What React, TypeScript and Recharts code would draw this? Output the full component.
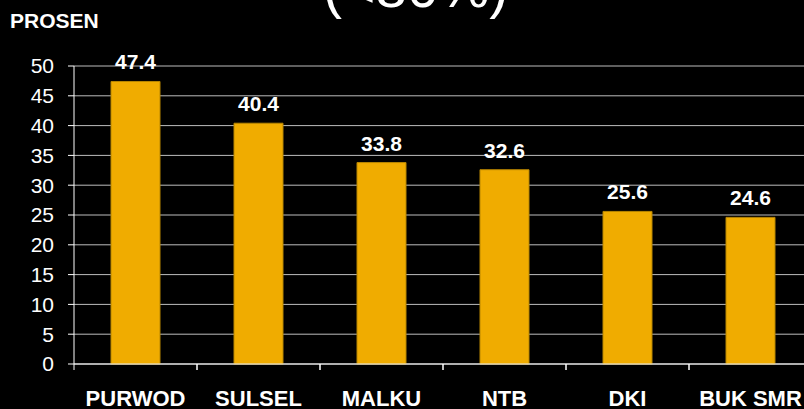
import { BarChart, Bar, XAxis, YAxis, CartesianGrid, LabelList } from "recharts"

const regions = ["PURWOD", "SULSEL", "MALKU", "NTB", "DKI", "BUK SMR"]
const percent = [47.4, 40.4, 33.8, 32.6, 25.6, 24.6]
const yTicks = [0, 5, 10, 15, 20, 25, 30, 35, 40, 45, 50]

const data = regions.map((name, i) => ({ name, value: percent[i] }))

const FONT = '"Liberation Sans", Arial, sans-serif'
const TICK_SIZE = 6
const TICK_MARGIN = 20

function RegionTick(props: any) {
  const { x, y, payload } = props
  const half = payload?.offset ?? 0
  const axisY = y - TICK_SIZE - TICK_MARGIN
  return (
    <g>
      <line x1={x - half} x2={x - half} y1={axisY} y2={axisY + TICK_SIZE} stroke="#ffffff" strokeWidth={1} />
      <line x1={x + half} x2={x + half} y1={axisY} y2={axisY + TICK_SIZE} stroke="#ffffff" strokeWidth={1} />
      <text
        x={x}
        y={y}
        dy="0.71em"
        textAnchor="middle"
        fill="#ffffff"
        fontFamily={FONT}
        fontSize={22}
        fontWeight="bold"
      >
        {payload.value}
      </text>
    </g>
  )
}

export default function App() {
  return (
    <div
      style={{
        position: "absolute",
        left: 0,
        top: 0,
        width: 804,
        height: 409,
        overflow: "hidden",
        background: "#000000",
      }}
    >
      <BarChart
        width={812}
        height={409}
        data={data}
        margin={{ top: 66, right: 0, left: 0, bottom: 0 }}
        barCategoryGap={0}
      >
        <CartesianGrid horizontal vertical={false} stroke="#bdbdbd" strokeWidth={1} />
        <XAxis
          dataKey="name"
          height={45}
          stroke="#ffffff"
          tickLine={false}
          tickSize={TICK_SIZE}
          tickMargin={TICK_MARGIN}
          interval={0}
          tick={<RegionTick />}
        />
        <YAxis
          width={74}
          domain={[0, 50]}
          ticks={yTicks}
          interval={0}
          stroke="#ffffff"
          tickSize={TICK_SIZE}
          tickMargin={14}
          tick={{ fill: "#ffffff", fontSize: 21, fontFamily: FONT }}
        />
        <Bar
          dataKey="value"
          fill="#f0ac00"
          stroke="#b88600"
          strokeWidth={1}
          barSize={49}
          isAnimationActive={false}
        >
          <LabelList
            dataKey="value"
            position="top"
            offset={12}
            fill="#ffffff"
            fontFamily={FONT}
            fontSize={21}
            fontWeight="bold"
            formatter={(v: any) => Number(v).toFixed(1)}
          />
        </Bar>
      </BarChart>
      <svg
        width={804}
        height={409}
        style={{ position: "absolute", left: 0, top: 0, pointerEvents: "none" }}
      >
        <text x={323} y={7} fill="#ffffff" fontFamily={FONT} fontSize={57}>
          (&lt;80%)
        </text>
        <text x={10} y={28} fill="#ffffff" fontFamily={FONT} fontSize={21} fontWeight="bold">
          PROSEN
        </text>
      </svg>
    </div>
  )
}
